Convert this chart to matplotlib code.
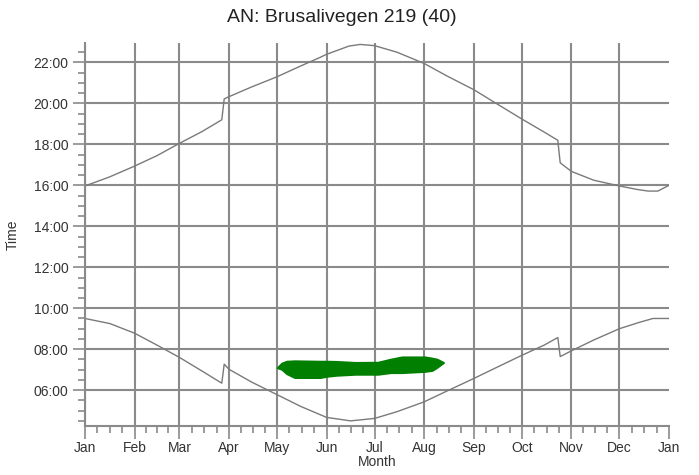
import numpy as np
import matplotlib
matplotlib.use("Agg")
import matplotlib.pyplot as plt
from matplotlib.ticker import FixedLocator, FuncFormatter, MultipleLocator

plt.rcParams['font.family'] = ['Liberation Sans', 'DejaVu Sans']

# month boundaries (day of year) and labels
month_starts = [0, 31, 59, 90, 120, 151, 181, 212, 243, 273, 304, 334, 365]
month_labels = ['Jan', 'Feb', 'Mar', 'Apr', 'May', 'Jun', 'Jul', 'Aug',
                'Sep', 'Oct', 'Nov', 'Dec', 'Jan']

# sunset (upper curve), hours
sunset_day = [0, 15, 31, 45, 59, 73, 85.5, 87, 90, 104, 120, 134, 147, 151,
              165, 172, 181, 195, 212, 226, 243, 257, 273, 287, 295.5, 297,
              304, 318, 334, 345, 352, 358, 365]
sunset_hr = [15.97, 16.4, 16.94, 17.45, 18.05, 18.62, 19.2, 20.22, 20.33, 20.8,
             21.3, 21.8, 22.25, 22.4, 22.8, 22.88, 22.82, 22.5, 21.95, 21.35,
             20.67, 20.0, 19.24, 18.6, 18.2, 17.1, 16.68, 16.25, 15.97, 15.8,
             15.72, 15.72, 16.0]

# sunrise (lower curve), hours
sunrise_day = [0, 15.6, 31, 45, 59, 73, 85.5, 87, 90, 104, 120, 135, 151,
               166, 181, 195, 212, 226, 243, 257, 273, 287, 295.5, 297, 304,
               318, 334, 346, 355, 365]
sunrise_hr = [9.5, 9.25, 8.78, 8.2, 7.6, 6.94, 6.34, 7.27, 7.02, 6.4, 5.78,
              5.2, 4.67, 4.5, 4.62, 4.95, 5.43, 5.95, 6.57, 7.1, 7.7, 8.2,
              8.57, 7.64, 7.92, 8.45, 9.0, 9.3, 9.5, 9.5]

# green band
band_day = [120.2, 123, 126, 131, 147, 151, 157, 169, 183, 191, 198, 212.5,
            217, 220, 224]
band_top = [7.1, 7.32, 7.41, 7.43, 7.41, 7.41, 7.4, 7.35, 7.36, 7.51, 7.62,
            7.62, 7.56, 7.51, 7.35]
band_bot = [7.1, 7.02, 6.81, 6.62, 6.62, 6.68, 6.73, 6.78, 6.78, 6.86, 6.86,
            6.92, 6.97, 7.12, 7.35]

grid_c = '#8a8a8a'
text_c = '#333333'

fig = plt.figure(figsize=(6.99, 4.75), dpi=100)
ax = fig.add_axes([85 / 699, 1 - 426 / 475, 584 / 699, 383 / 475])

ax.plot(sunset_day, sunset_hr, color='#7a7a7a', lw=1.0)
ax.plot(sunrise_day, sunrise_hr, color='#7a7a7a', lw=1.0)
ax.fill_between(band_day, band_bot, band_top, color='#007f00', lw=1.5,
                edgecolor='#007f00')

ax.set_xlim(0, 365)
ax.set_ylim(4.25, 22.95)

ax.set_xticks(month_starts)
ax.set_xticklabels(month_labels)
minor_x = []
for a, b in zip(month_starts[:-1], month_starts[1:]):
    step = (b - a) / 4
    minor_x += [a + step * k for k in (1, 2, 3)]
ax.xaxis.set_minor_locator(FixedLocator(minor_x))

ax.yaxis.set_major_locator(FixedLocator(list(range(6, 23, 2))))
ax.yaxis.set_minor_locator(MultipleLocator(0.5))
ax.yaxis.set_major_formatter(FuncFormatter(lambda v, p: '%02d:00' % int(round(v))))

ax.grid(True, which='major', color=grid_c, lw=1.5)
ax.set_axisbelow(True)

for s in ['top', 'right']:
    ax.spines[s].set_visible(False)
for s in ['left', 'bottom']:
    ax.spines[s].set_color(grid_c)
    ax.spines[s].set_linewidth(1.5)

ax.tick_params(axis='both', which='major', length=9, width=1.2, color=grid_c,
               labelsize=10, labelcolor=text_c)
ax.tick_params(axis='both', which='minor', length=5, width=1.2, color=grid_c)
ax.tick_params(axis='x', which='major', pad=2)
ax.tick_params(axis='y', which='major', pad=3)

fig.canvas.draw()
xgl = ax.xaxis.get_gridlines()
xgl[-1].set_visible(False)

ax.set_xlabel('Month', fontsize=10, color=text_c, labelpad=0)
ax.set_ylabel('Time', fontsize=10, color=text_c, labelpad=10)
fig.text(341.7 / 699, 1 - 17 / 475, 'AN: Brusalivegen 219 (40)', fontsize=14,
         ha='center', va='center', color='#222222')

fig.savefig('out.png', dpi=100)
